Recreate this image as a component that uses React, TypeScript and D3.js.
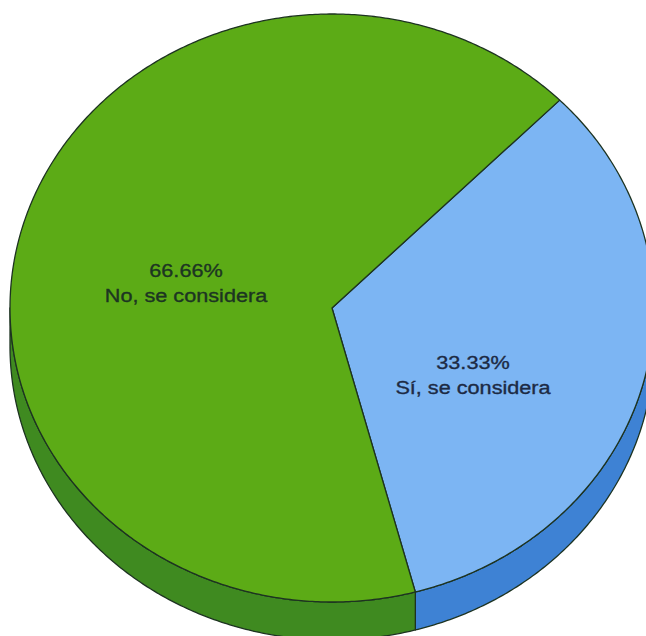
import React, { useEffect } from 'react';
import * as d3 from 'd3';

// chart data
const categories = ['Sí, se considera', 'No, se considera'];
const percentages = [33.33, 66.66];
const percentLabels = ['33.33%', '66.66%'];

// styling
const topColors = ['#7cb5f3', '#5cab16'];
const sideColors = ['#3e82d4', '#3f8a20'];
const strokeColor = '#1d3321';
const textColor = ['#1c2a44', '#1c3522'];

// layout of the tilted pie
const W = 646;
const H = 636;
const cx = 332;
const cy = 308;
const rx = 322;
const ry = 294;
const depth = 38;
const startDeg = 45;
// first-line baseline of each label, relative to the pie centre
const labelAnchor: Record<string, [number, number]> = {
  'Sí, se considera': [141, 61],
  'No, se considera': [-146, -31],
};

const pt = (a: number, dy = 0): [number, number] => [
  cx + rx * Math.sin(a),
  cy - ry * Math.cos(a) + dy,
];

const sample = (a0: number, a1: number, dy = 0) => {
  const n = Math.max(2, Math.ceil(Math.abs(a1 - a0) / (Math.PI / 360)));
  return d3.range(n + 1).map(i => pt(a0 + ((a1 - a0) * i) / n, dy));
};

const App: React.FC = () => {
  useEffect(() => {
    document.body.style.margin = '0';
  }, []);

  const pie = d3
    .pie<number>()
    .sort(null)
    .value(d => d)
    .startAngle((startDeg * Math.PI) / 180)
    .endAngle((startDeg * Math.PI) / 180 + 2 * Math.PI);
  const arcs = pie(percentages);

  const closed = d3.line().curve(d3.curveLinearClosed);

  // visible side band: the front half of the rim (90deg .. 270deg)
  const sides: { i: number; d: string }[] = [];
  arcs.forEach((a, i) => {
    [0, 2 * Math.PI].forEach(off => {
      const lo = Math.max(a.startAngle, Math.PI / 2 + off);
      const hi = Math.min(a.endAngle, (3 * Math.PI) / 2 + off);
      if (hi > lo) {
        const pts = [...sample(lo, hi), ...sample(hi, lo, depth)];
        sides.push({ i, d: closed(pts) as string });
      }
    });
  });

  return (
    <svg width={W} height={H} style={{ display: 'block', background: '#fff' }}>
      {sides.map((s, k) => (
        <path
          key={'s' + k}
          d={s.d}
          fill={sideColors[s.i]}
          stroke={strokeColor}
          strokeWidth={1.3}
          strokeLinejoin="round"
        />
      ))}
      {arcs.map((a, i) => (
        <path
          key={'t' + i}
          d={closed([[cx, cy], ...sample(a.startAngle, a.endAngle)]) as string}
          fill={topColors[i]}
          stroke={strokeColor}
          strokeWidth={1.3}
          strokeLinejoin="round"
        />
      ))}
      {categories.map((c, i) => {
        const [dx, dy] = labelAnchor[c];
        return (
          <g key={'l' + i} transform={`translate(${cx + dx},${cy + dy}) scale(1.14,1)`}>
            <text
              textAnchor="middle"
              fontFamily="'Liberation Sans', Arial, sans-serif"
              fontSize={19}
              fill={textColor[i]}
              stroke={textColor[i]}
              strokeWidth={0.35}
            >
              <tspan x={0} y={0}>{percentLabels[i]}</tspan>
              <tspan x={0} y={25}>{c}</tspan>
            </text>
          </g>
        );
      })}
    </svg>
  );
};

export default App;
